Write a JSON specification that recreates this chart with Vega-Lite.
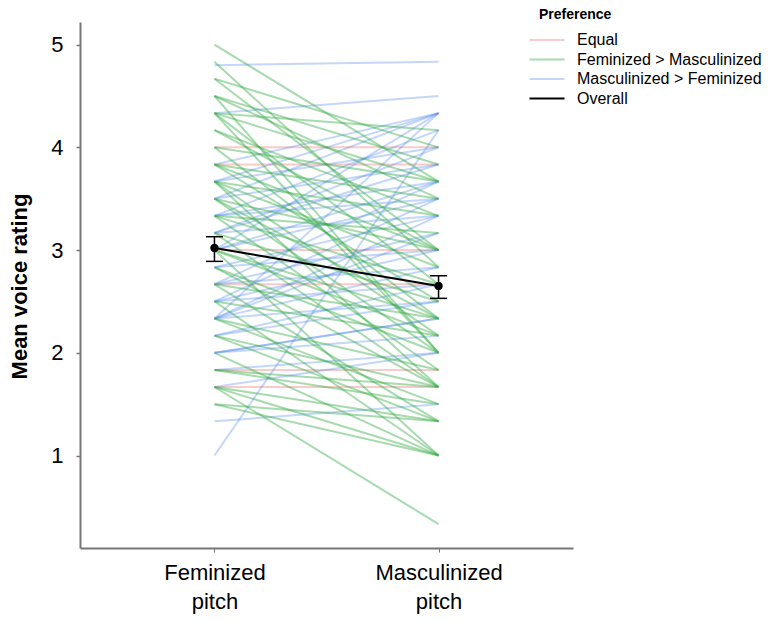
{
"$schema": "https://vega.github.io/schema/vega-lite/v6.json",
"width": 493,
"height": 526,
"autosize": {"type": "none"},
"padding": {"left": 80, "top": 22, "right": 195, "bottom": 73},
"config": {"font": "Liberation Sans", "view": {"stroke": null}, "axis": {"grid": false}},
"datasets": {
"participants": [
{"pid":1,"preference":"Equal","feminized":4,"masculinized":4},
{"pid":2,"preference":"Equal","feminized":3.833,"masculinized":3.833},
{"pid":3,"preference":"Equal","feminized":3,"masculinized":3},
{"pid":4,"preference":"Equal","feminized":2.667,"masculinized":2.667},
{"pid":5,"preference":"Equal","feminized":1.833,"masculinized":1.833},
{"pid":6,"preference":"Equal","feminized":1.667,"masculinized":1.667},
{"pid":7,"preference":"Masculinized > Feminized","feminized":4.8,"masculinized":4.833},
{"pid":8,"preference":"Masculinized > Feminized","feminized":4.333,"masculinized":4.5},
{"pid":9,"preference":"Masculinized > Feminized","feminized":3.833,"masculinized":4.333},
{"pid":10,"preference":"Masculinized > Feminized","feminized":3.667,"masculinized":4.333},
{"pid":11,"preference":"Masculinized > Feminized","feminized":3.667,"masculinized":4},
{"pid":12,"preference":"Masculinized > Feminized","feminized":3.5,"masculinized":4.333},
{"pid":13,"preference":"Masculinized > Feminized","feminized":3.5,"masculinized":3.833},
{"pid":14,"preference":"Masculinized > Feminized","feminized":3.333,"masculinized":3.667},
{"pid":15,"preference":"Masculinized > Feminized","feminized":3.333,"masculinized":4.167},
{"pid":16,"preference":"Masculinized > Feminized","feminized":3.333,"masculinized":3.5},
{"pid":17,"preference":"Masculinized > Feminized","feminized":3.167,"masculinized":3.833},
{"pid":18,"preference":"Masculinized > Feminized","feminized":3.167,"masculinized":3.333},
{"pid":19,"preference":"Masculinized > Feminized","feminized":3.167,"masculinized":4},
{"pid":20,"preference":"Masculinized > Feminized","feminized":3,"masculinized":3.667},
{"pid":21,"preference":"Masculinized > Feminized","feminized":3,"masculinized":3.5},
{"pid":22,"preference":"Masculinized > Feminized","feminized":3,"masculinized":4.333},
{"pid":23,"preference":"Masculinized > Feminized","feminized":2.833,"masculinized":3.333},
{"pid":24,"preference":"Masculinized > Feminized","feminized":2.833,"masculinized":3},
{"pid":25,"preference":"Masculinized > Feminized","feminized":2.667,"masculinized":3.167},
{"pid":26,"preference":"Masculinized > Feminized","feminized":2.667,"masculinized":3.667},
{"pid":27,"preference":"Masculinized > Feminized","feminized":2.667,"masculinized":2.833},
{"pid":28,"preference":"Masculinized > Feminized","feminized":2.5,"masculinized":3.5},
{"pid":29,"preference":"Masculinized > Feminized","feminized":2.5,"masculinized":3},
{"pid":30,"preference":"Masculinized > Feminized","feminized":2.5,"masculinized":2.667},
{"pid":31,"preference":"Masculinized > Feminized","feminized":2.333,"masculinized":3.333},
{"pid":32,"preference":"Masculinized > Feminized","feminized":2.333,"masculinized":2.833},
{"pid":33,"preference":"Masculinized > Feminized","feminized":2.333,"masculinized":4.333},
{"pid":34,"preference":"Masculinized > Feminized","feminized":2.333,"masculinized":2.5},
{"pid":35,"preference":"Masculinized > Feminized","feminized":2.333,"masculinized":3.167},
{"pid":36,"preference":"Masculinized > Feminized","feminized":2.167,"masculinized":2.667},
{"pid":37,"preference":"Masculinized > Feminized","feminized":2.167,"masculinized":2.5},
{"pid":38,"preference":"Masculinized > Feminized","feminized":2,"masculinized":2.333},
{"pid":39,"preference":"Masculinized > Feminized","feminized":2,"masculinized":2.167},
{"pid":40,"preference":"Masculinized > Feminized","feminized":2,"masculinized":2.333},
{"pid":41,"preference":"Masculinized > Feminized","feminized":1.833,"masculinized":2},
{"pid":42,"preference":"Masculinized > Feminized","feminized":1.667,"masculinized":2},
{"pid":43,"preference":"Masculinized > Feminized","feminized":1.333,"masculinized":1.5},
{"pid":44,"preference":"Masculinized > Feminized","feminized":1,"masculinized":4.167},
{"pid":45,"preference":"Feminized > Masculinized","feminized":5,"masculinized":3.667},
{"pid":46,"preference":"Feminized > Masculinized","feminized":4.833,"masculinized":2.833},
{"pid":47,"preference":"Feminized > Masculinized","feminized":4.667,"masculinized":3},
{"pid":48,"preference":"Feminized > Masculinized","feminized":4.667,"masculinized":4},
{"pid":49,"preference":"Feminized > Masculinized","feminized":4.5,"masculinized":3.5},
{"pid":50,"preference":"Feminized > Masculinized","feminized":4.5,"masculinized":2},
{"pid":51,"preference":"Feminized > Masculinized","feminized":4.5,"masculinized":3.833},
{"pid":52,"preference":"Feminized > Masculinized","feminized":4.333,"masculinized":2.667},
{"pid":53,"preference":"Feminized > Masculinized","feminized":4.333,"masculinized":3.667},
{"pid":54,"preference":"Feminized > Masculinized","feminized":4.333,"masculinized":2},
{"pid":55,"preference":"Feminized > Masculinized","feminized":4.333,"masculinized":4.167},
{"pid":56,"preference":"Feminized > Masculinized","feminized":4.167,"masculinized":3},
{"pid":57,"preference":"Feminized > Masculinized","feminized":4.167,"masculinized":3.333},
{"pid":58,"preference":"Feminized > Masculinized","feminized":4,"masculinized":2.333},
{"pid":59,"preference":"Feminized > Masculinized","feminized":4,"masculinized":3.667},
{"pid":60,"preference":"Feminized > Masculinized","feminized":3.833,"masculinized":2.5},
{"pid":61,"preference":"Feminized > Masculinized","feminized":3.833,"masculinized":3},
{"pid":62,"preference":"Feminized > Masculinized","feminized":3.833,"masculinized":3.5},
{"pid":63,"preference":"Feminized > Masculinized","feminized":3.667,"masculinized":2.167},
{"pid":64,"preference":"Feminized > Masculinized","feminized":3.667,"masculinized":3.333},
{"pid":65,"preference":"Feminized > Masculinized","feminized":3.667,"masculinized":1.667},
{"pid":66,"preference":"Feminized > Masculinized","feminized":3.667,"masculinized":2.833},
{"pid":67,"preference":"Feminized > Masculinized","feminized":3.5,"masculinized":2},
{"pid":68,"preference":"Feminized > Masculinized","feminized":3.5,"masculinized":3},
{"pid":69,"preference":"Feminized > Masculinized","feminized":3.5,"masculinized":2.333},
{"pid":70,"preference":"Feminized > Masculinized","feminized":3.333,"masculinized":1.833},
{"pid":71,"preference":"Feminized > Masculinized","feminized":3.333,"masculinized":2.667},
{"pid":72,"preference":"Feminized > Masculinized","feminized":3.333,"masculinized":3.167},
{"pid":73,"preference":"Feminized > Masculinized","feminized":3.167,"masculinized":2.5},
{"pid":74,"preference":"Feminized > Masculinized","feminized":3.167,"masculinized":1.667},
{"pid":75,"preference":"Feminized > Masculinized","feminized":3,"masculinized":2.333},
{"pid":76,"preference":"Feminized > Masculinized","feminized":3,"masculinized":1},
{"pid":77,"preference":"Feminized > Masculinized","feminized":3,"masculinized":2.167},
{"pid":78,"preference":"Feminized > Masculinized","feminized":2.833,"masculinized":2},
{"pid":79,"preference":"Feminized > Masculinized","feminized":2.833,"masculinized":1.667},
{"pid":80,"preference":"Feminized > Masculinized","feminized":2.667,"masculinized":2.333},
{"pid":81,"preference":"Feminized > Masculinized","feminized":2.667,"masculinized":1.333},
{"pid":82,"preference":"Feminized > Masculinized","feminized":2.5,"masculinized":1},
{"pid":83,"preference":"Feminized > Masculinized","feminized":2.5,"masculinized":2.167},
{"pid":84,"preference":"Feminized > Masculinized","feminized":2.333,"masculinized":1.833},
{"pid":85,"preference":"Feminized > Masculinized","feminized":2.333,"masculinized":1.5},
{"pid":86,"preference":"Feminized > Masculinized","feminized":2.167,"masculinized":1.667},
{"pid":87,"preference":"Feminized > Masculinized","feminized":2.167,"masculinized":1.333},
{"pid":88,"preference":"Feminized > Masculinized","feminized":2,"masculinized":1},
{"pid":89,"preference":"Feminized > Masculinized","feminized":1.833,"masculinized":1.5},
{"pid":90,"preference":"Feminized > Masculinized","feminized":1.833,"masculinized":1.667},
{"pid":91,"preference":"Feminized > Masculinized","feminized":1.667,"masculinized":0.333},
{"pid":92,"preference":"Feminized > Masculinized","feminized":1.667,"masculinized":1},
{"pid":93,"preference":"Feminized > Masculinized","feminized":1.667,"masculinized":1.333},
{"pid":94,"preference":"Feminized > Masculinized","feminized":1.5,"masculinized":1},
{"pid":95,"preference":"Feminized > Masculinized","feminized":1.5,"masculinized":1.333}
],
"overall": [
{"condition":"feminized","preference":"Overall","mean":3.02,"lo":2.89,"hi":3.13},
{"condition":"masculinized","preference":"Overall","mean":2.65,"lo":2.53,"hi":2.75}
]
},
"layer": [
{
"data": {"name": "participants"},
"transform": [{"fold": ["feminized", "masculinized"], "as": ["condition", "rating"]}],
"mark": {"type": "line", "strokeWidth": 2},
"encoding": {
"x": {"field": "condition", "type": "nominal", "scale": {"type": "point", "padding": 0.6, "domain": ["feminized", "masculinized"]},
"axis": {"title": null, "labelAngle": 0, "labelFontSize": 22, "labelColor": "black", "labelLineHeight": 29, "labelPadding": 10,
"labelExpr": "datum.value == 'feminized' ? ['Feminized', 'pitch'] : ['Masculinized', 'pitch']",
"tickSize": 4, "tickColor": "#777", "domainColor": "#777", "domainWidth": 2}},
"y": {"field": "rating", "type": "quantitative", "scale": {"domain": [0.1, 5.22], "nice": false, "zero": false},
"axis": {"title": "Mean voice rating", "titleFontSize": 22, "titleFontWeight": "bold", "titleColor": "black",
"titleX": -54, "titleY": 264, "titleAngle": -90, "titleAlign": "center", "titleBaseline": "alphabetic",
"values": [1, 2, 3, 4, 5], "format": "d", "labelFontSize": 22, "labelColor": "black", "labelPadding": 13,
"tickSize": 4, "tickColor": "#777", "tickWidth": 1.5, "domainColor": "#777", "domainWidth": 2}},
"color": {"field": "preference", "type": "nominal",
"scale": {"domain": ["Equal", "Feminized > Masculinized", "Masculinized > Feminized", "Overall"],
"range": ["rgba(242,107,107,0.35)", "rgba(46,170,63,0.42)", "rgba(61,123,240,0.3)", "#000000"]},
"legend": {"title": "Preference", "orient": "none", "legendX": 459, "legendY": -14,
"symbolType": "M -2.5 0 L 2.5 0", "symbolSize": 196, "symbolStrokeWidth": 2, "labelOffset": 22, "labelLimit": 0,
"labelFontSize": 16, "labelColor": "black", "titleFontSize": 14, "titleFontWeight": "bold", "titleColor": "black",
"titlePadding": 10, "rowPadding": 3.5}},
"detail": {"field": "pid"}
}
},
{
"data": {"name": "overall"},
"mark": {"type": "line", "strokeWidth": 2},
"encoding": {
"x": {"field": "condition", "type": "nominal"},
"y": {"field": "mean", "type": "quantitative"},
"color": {"field": "preference", "type": "nominal"}
}
},
{
"data": {"name": "overall"},
"mark": {"type": "rule", "color": "black", "strokeWidth": 1.5},
"encoding": {
"x": {"field": "condition", "type": "nominal"},
"y": {"field": "lo", "type": "quantitative"},
"y2": {"field": "hi"}
}
},
{
"data": {"name": "overall"},
"mark": {"type": "tick", "color": "black", "size": 17, "thickness": 1.5, "orient": "horizontal", "opacity": 1},
"encoding": {
"x": {"field": "condition", "type": "nominal"},
"y": {"field": "lo", "type": "quantitative"}
}
},
{
"data": {"name": "overall"},
"mark": {"type": "tick", "color": "black", "size": 17, "thickness": 1.5, "orient": "horizontal", "opacity": 1},
"encoding": {
"x": {"field": "condition", "type": "nominal"},
"y": {"field": "hi", "type": "quantitative"}
}
},
{
"data": {"name": "overall"},
"mark": {"type": "point", "filled": true, "color": "black", "size": 70, "opacity": 1},
"encoding": {
"x": {"field": "condition", "type": "nominal"},
"y": {"field": "mean", "type": "quantitative"}
}
}
]
}
